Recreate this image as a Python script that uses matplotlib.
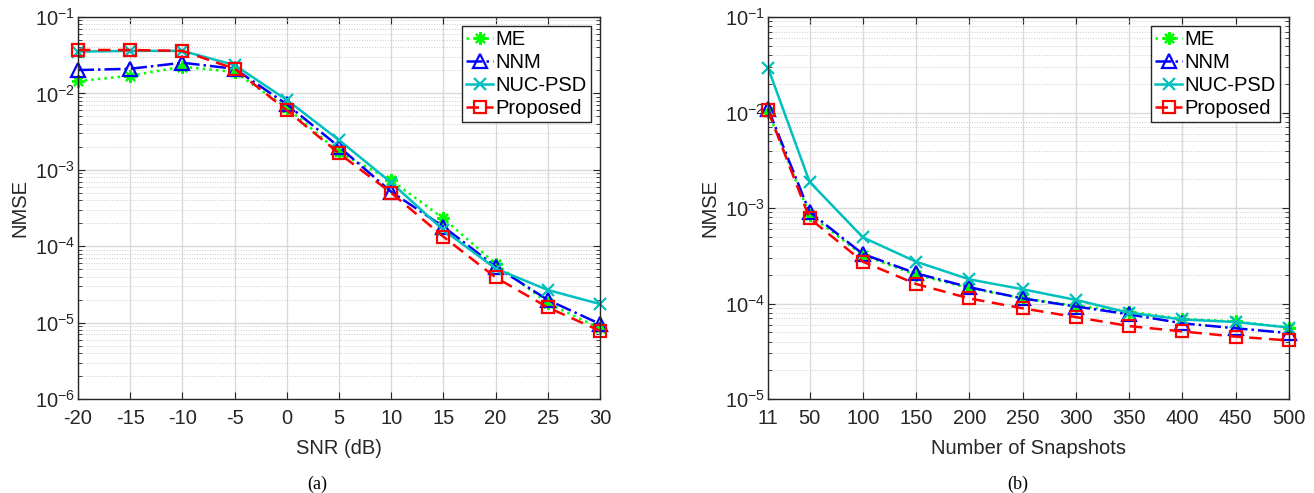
import matplotlib
matplotlib.use("Agg")
import matplotlib.pyplot as plt
from matplotlib.ticker import LogLocator, NullFormatter, FixedLocator

plt.rcParams['font.family'] = ['Liberation Sans', 'DejaVu Sans']
plt.rcParams['mathtext.default'] = 'regular'
plt.rcParams['axes.unicode_minus'] = False

# ---- data (a) ----
snr = [-20, -15, -10, -5, 0, 5, 10, 15, 20, 25, 30]
me_a = [0.0145, 0.017, 0.0224, 0.019, 0.0065, 0.0017, 0.00073, 0.000231, 5.9e-5, 1.8e-5, 8.4e-6]
nnm_a = [0.0202, 0.021, 0.0252, 0.021, 0.0072, 0.0020, 0.000516, 0.00018, 5.4e-5, 1.98e-5, 9.6e-6]
nuc_a = [0.0352, 0.036, 0.036, 0.0235, 0.0082, 0.00245, 0.00068, 0.000163, 5.1e-5, 2.67e-5, 1.75e-5]
prop_a = [0.037, 0.037, 0.036, 0.021, 0.006, 0.00164, 0.0005, 0.000133, 3.9e-5, 1.58e-5, 7.8e-6]

# ---- data (b) ----
snaps = [11, 50, 100, 150, 200, 250, 300, 350, 400, 450, 500]
me_b = [0.0102, 0.00085, 0.00032, 0.0002, 0.000145, 0.000113, 9.5e-5, 8.2e-5, 6.9e-5, 6.5e-5, 5.6e-5]
nnm_b = [0.011, 0.00091, 0.00033, 0.000207, 0.000148, 0.000113, 9.3e-5, 7.7e-5, 6.2e-5, 5.5e-5, 4.9e-5]
nuc_b = [0.0294, 0.00188, 0.000493, 0.000274, 0.000179, 0.000141, 0.000109, 8.0e-5, 6.8e-5, 6.4e-5, 5.6e-5]
prop_b = [0.0105, 0.00078, 0.000274, 0.00016, 0.000113, 8.9e-5, 7.2e-5, 5.8e-5, 5.1e-5, 4.5e-5, 4.1e-5]

labels = ['ME', 'NNM', 'NUC-PSD', 'Proposed']
cyan = (0.0, 0.75, 0.75)
axcol = (0.15, 0.15, 0.15)
FS = 14.5

fig = plt.figure(figsize=(13.14, 4.93), dpi=100)
ax1 = fig.add_axes([78/1314, 1-399/493, 522/1314, 382/493])
ax2 = fig.add_axes([768/1314, 1-399/493, 521/1314, 382/493])


def draw(ax, x, series):
    me, nnm, nuc, prop = series
    ax.plot(x, me, color=(0, 1, 0), linestyle=':', marker=(8, 2, 0), markersize=9, markeredgewidth=1.6,
            linewidth=1.8, label=labels[0], clip_on=False)
    ax.plot(x, nnm, color='b', linestyle='-.', marker='^', markersize=10, markerfacecolor='none',
            markeredgewidth=1.6, linewidth=1.8, label=labels[1], clip_on=False)
    ax.plot(x, nuc, color=cyan, linestyle='-', marker='x', markersize=8, markeredgewidth=1.6,
            linewidth=1.8, label=labels[2], clip_on=False)
    ax.plot(x, prop, color='r', linestyle='--', marker='s', markersize=9, markerfacecolor='none',
            markeredgewidth=1.6, linewidth=1.8, label=labels[3], dashes=(5, 3), clip_on=False)
    ax.set_yscale('log')
    ax.yaxis.set_major_locator(LogLocator(base=10, numticks=20))
    ax.yaxis.set_minor_locator(LogLocator(base=10, subs=range(2, 10), numticks=50))
    ax.yaxis.set_minor_formatter(NullFormatter())
    ax.grid(True, which='major', color=(0.85, 0.85, 0.85), linewidth=1.0, linestyle='-')
    ax.grid(True, which='minor', axis='y', color=(0.8, 0.8, 0.8), linewidth=0.7, linestyle=':')
    ax.set_axisbelow(True)
    for s in ax.spines.values():
        s.set_color(axcol)
        s.set_linewidth(1.0)
    ax.tick_params(which='both', direction='in', top=True, right=True, colors=axcol,
                   labelsize=FS, labelcolor=(0.15, 0.15, 0.15))
    ax.tick_params(which='major', length=5)
    ax.tick_params(which='minor', length=3)
    ax.tick_params(axis='x', pad=7)
    ax.tick_params(axis='y', pad=2)
    ax.set_ylabel('NMSE', fontsize=FS, color=(0.15, 0.15, 0.15), labelpad=4)
    leg = ax.legend(loc='upper right', fontsize=FS, fancybox=False, framealpha=1,
                    edgecolor=axcol, borderaxespad=0.45, handlelength=1.3, handletextpad=0.15,
                    labelspacing=0.2, borderpad=0.2)
    leg.get_frame().set_linewidth(1.0)


draw(ax1, snr, (me_a, nnm_a, nuc_a, prop_a))
ax1.set_xlim(-20, 30)
ax1.set_ylim(1e-6, 1e-1)
ax1.xaxis.set_major_locator(FixedLocator(snr))
ax1.xaxis.set_minor_locator(FixedLocator([]))
ax1.set_xlabel('SNR (dB)', fontsize=FS, color=(0.15, 0.15, 0.15), labelpad=8)

draw(ax2, snaps, (me_b, nnm_b, nuc_b, prop_b))
ax2.set_xlim(11, 500)
ax2.set_ylim(1e-5, 1e-1)
ax2.xaxis.set_major_locator(FixedLocator(snaps))
ax2.xaxis.set_minor_locator(FixedLocator([]))
ax2.set_xlabel('Number of Snapshots', fontsize=FS, color=(0.15, 0.15, 0.15), labelpad=8)

fig.text(317/1314, 1-484/493, '(a)', family='Liberation Serif', fontsize=13, ha='center', va='center')
fig.text(1018/1314, 1-484/493, '(b)', family='Liberation Serif', fontsize=13, ha='center', va='center')

fig.savefig('out.png', dpi=100)
